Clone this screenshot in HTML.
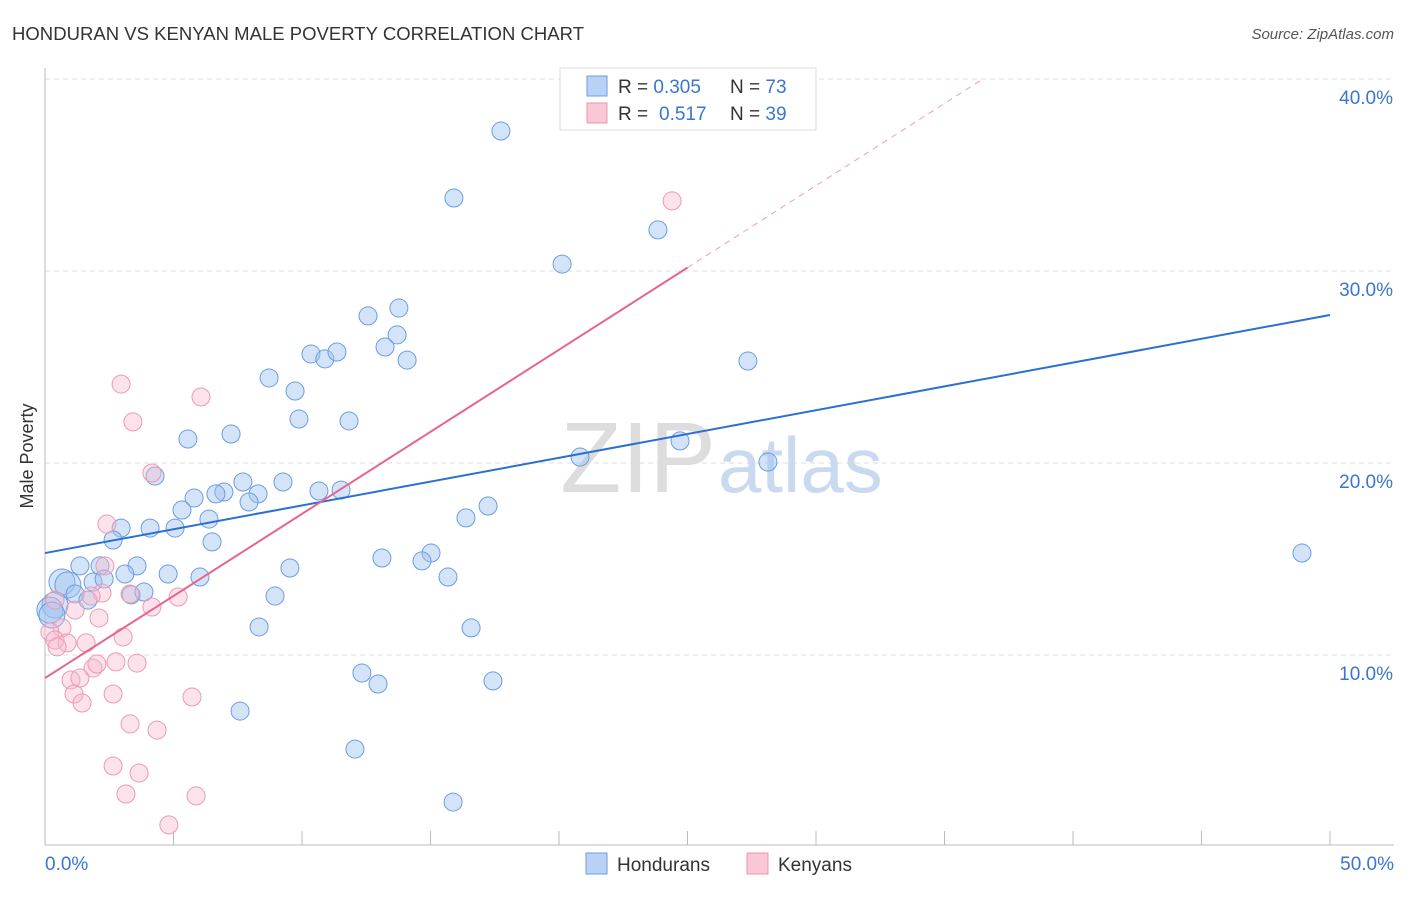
<!DOCTYPE html>
<html><head><meta charset="utf-8"><style>
body{margin:0;background:#fff;font-family:"Liberation Sans",sans-serif}
svg text{font-family:"Liberation Sans",sans-serif}
</style></head><body>
<svg id="c" width="1406" height="892">
<text x="12" y="40" font-size="18.5" fill="#333" textLength="572">HONDURAN VS KENYAN MALE POVERTY CORRELATION CHART</text>
<text x="1394" y="39" font-size="15" fill="#555" text-anchor="end" font-style="italic">Source: ZipAtlas.com</text>
<text x="33" y="456" font-size="18" fill="#333" text-anchor="middle" transform="rotate(-90 33 456)">Male Poverty</text>
<g id="grid"></g>
<text x="716" y="492" font-size="100" font-family="Liberation Serif" fill="#ddd" text-anchor="end">ZIP</text>
<text x="718" y="492" font-size="78" fill="#c9d9f0">atlas</text>
<g id="pts"></g>
<g id="lines"></g>
<g>
<rect x="560" y="68" width="256" height="62" fill="#fff" stroke="#ddd"/>
<rect x="587" y="76" width="20" height="20" fill="#b8d2f5" stroke="#6b9de0"/>
<rect x="587" y="103" width="20" height="20" fill="#f9c8d6" stroke="#ec94ae"/>
<text x="618" y="93" font-size="19" fill="#333">R = <tspan fill="#3a76d0">0.305</tspan><tspan x="730">N = </tspan><tspan fill="#3a76d0">73</tspan></text>
<text x="618" y="120" font-size="19" fill="#333">R = <tspan x="659" fill="#3a76d0">0.517</tspan><tspan x="730">N = </tspan><tspan fill="#3a76d0">39</tspan></text>
</g>
<g>
<rect x="586" y="853" width="21" height="21" fill="#b8d2f5" stroke="#6b9de0"/>
<text x="617" y="871" font-size="19" fill="#333">Hondurans</text>
<rect x="747" y="853" width="21" height="21" fill="#f9c8d6" stroke="#ec94ae"/>
<text x="778" y="871" font-size="19" fill="#333">Kenyans</text>
</g>
</svg>
<script>
const yTicks=[10,20,30,40];
const yTickLabels=["10.0%","20.0%","30.0%","40.0%"];
const xTicks=[0,5,10,15,20,25,30,35,40,45,50];
const hondX=[17.74,15.91,23.85,20.12,13.77,12.57,13.70,13.23,10.35,10.89,11.36,14.09,27.35,8.72,9.73,9.88,11.83,7.24,5.56,24.71,20.82,28.13,4.28,7.70,9.26,6.96,6.65,8.29,5.80,7.94,10.66,11.52,5.33,17.24,16.38,6.38,2.96,4.09,5.06,2.65,6.50,48.91,15.02,13.11,14.67,9.53,1.36,2.14,3.58,3.11,4.79,6.03,15.68,0.66,0.89,1.87,2.30,1.17,3.35,3.85,8.95,1.67,0.39,0.19,8.33,16.58,12.33,12.96,17.43,7.59,12.06,15.88,0.27];
const hondY=[37.29,33.8,32.14,30.36,28.07,27.66,26.67,26.04,25.68,25.42,25.78,25.36,25.31,24.43,23.75,22.29,22.19,21.51,21.25,21.15,20.31,20.05,19.32,19.01,19.01,18.49,18.39,18.39,18.18,17.97,18.54,18.59,17.55,17.76,17.14,17.08,16.61,16.61,16.61,15.99,15.89,15.31,15.31,15.05,14.90,14.53,14.64,14.64,14.64,14.22,14.22,14.06,14.06,13.80,13.65,13.80,13.96,13.18,13.13,13.28,13.07,12.86,12.60,12.34,11.46,11.41,9.06,8.49,8.65,7.08,5.10,2.34,12.08];
const kenX=[2.96,6.07,3.42,4.16,2.41,2.33,2.22,1.79,3.31,1.17,0.39,5.18,4.16,2.10,0.66,0.19,0.39,3.04,0.86,1.60,0.47,1.87,2.02,2.76,3.58,1.01,1.36,1.13,1.44,2.65,5.72,3.31,4.36,2.65,3.66,3.15,5.88,4.82,24.40];
const kenY=[24.11,23.44,22.14,19.48,16.82,14.64,13.23,13.07,13.18,12.34,12.86,13.02,12.50,11.93,11.41,11.20,10.78,10.94,10.63,10.63,10.42,9.32,9.53,9.64,9.58,8.70,8.80,7.97,7.50,7.97,7.81,6.41,6.09,4.22,3.85,2.76,2.66,1.15,33.65];
const hondTrend=[15.31,27.71];
const kenTrend=[8.80,0.855];
const NS="http://www.w3.org/2000/svg";
const sx=v=>45+v*25.7, sy=v=>847-v*19.2;
function mk(t,a,p){const e=document.createElementNS(NS,t);for(const k in a)e.setAttribute(k,a[k]);p.appendChild(e);return e;}
const g=document.getElementById('grid');
yTicks.forEach((t,i)=>{
 const l=mk('line',{x1:45,x2:1394,y1:sy(t),y2:sy(t),stroke:'#ddd','stroke-dasharray':'5,4'},g);
 
 
 const tx=mk('text',{x:1393,y:sy(t)+25,'font-size':19,fill:'#3a76d0','text-anchor':'end'},g);
 tx.textContent=yTickLabels[i];
 
 
});
mk('line',{x1:45,x2:45,y1:68,y2:845,stroke:'#bbb'},g);
const xa=mk('line',{x1:45,x2:1394,y1:845,y2:845,stroke:'#bbb'},g);


xTicks.forEach(t=>{mk('line',{x1:sx(t),x2:sx(t),y1:831,y2:845,stroke:'#bbb'},g);});
let t0=mk('text',{x:45,y:870,'font-size':19,fill:'#3a76d0'},g);t0.textContent='0.0%';


let t1=mk('text',{x:1394,y:870,'font-size':19,fill:'#3a76d0','text-anchor':'end'},g);t1.textContent='50.0%';


const P=document.getElementById('pts');
hondX.forEach((x,i)=>{const r=x<1?13:9;const c=mk('circle',{cx:sx(x),cy:sy(hondY[i]),r:r,fill:'rgba(160,195,240,0.45)',stroke:'#6b9de0','stroke-width':1},P);

});
kenX.forEach((x,i)=>{const c=mk('circle',{cx:sx(x),cy:sy(kenY[i]),r:9,fill:'rgba(248,185,205,0.4)',stroke:'#ec9ab3','stroke-width':1},P);

});
const L=document.getElementById('lines');
const bl=mk('line',{x1:sx(0),y1:sy(hondTrend[0]),x2:sx(50),y2:sy(hondTrend[1]),stroke:'#2b6fd6','stroke-width':2},L);


const xe=25, xd=(40-kenTrend[0])/kenTrend[1];
const pl=mk('line',{x1:sx(0),y1:sy(kenTrend[0]),x2:sx(xe),y2:sy(kenTrend[0]+kenTrend[1]*xe),stroke:'#e8648e','stroke-width':2},L);


const pd=mk('line',{x1:sx(xe),y1:sy(kenTrend[0]+kenTrend[1]*xe),x2:sx(xd),y2:sy(40),stroke:'#eaa0b6','stroke-width':1,'stroke-dasharray':'6,5'},L);


</script>
</body></html>
